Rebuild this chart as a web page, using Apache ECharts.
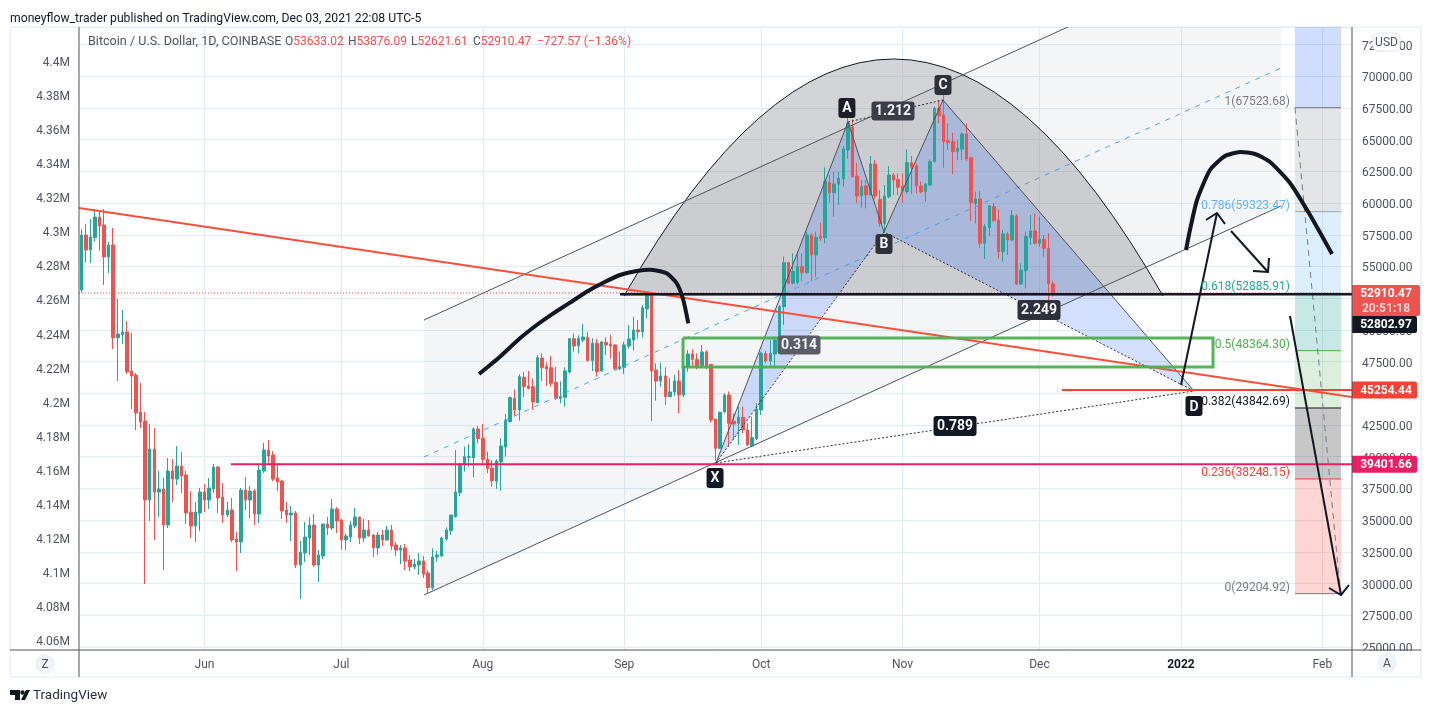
<!DOCTYPE html>
<html>
<head>
<meta charset="utf-8">
<title>BTCUSD</title>
<script src="https://cdn.jsdelivr.net/npm/echarts@6/dist/echarts.min.js"></script>
<style>
html, body { margin: 0; padding: 0; background: #fff; }
#chart { width: 1432px; height: 713px; }
</style>
</head>
<body>
<div id="chart"></div>
<script>
var FONT = 'Roboto';
var UP = '#26a69a', DOWN = '#ef5350', INK = '#131722', AXIS = '#50535e', GRIDCOL = '#e4ecf3';

// daily candles, from 2021-05-05
var opens = [53145,57480,56300,57270,58900,58270,55750,56690,49385,49600,49834,46760,46443,43527,42817,36589,40610,37220,37456,34618,
38875,38244,39270,38560,35642,34540,35564,37220,36589,37456,39190,36825,35406,35800,33514,33278,37377,36589,37298,35484,
38875,40531,40137,38323,38087,35800,35406,35564,31465,32410,33593,34618,31465,32174,34697,34382,35879,35012,33435,33672,
34540,35248,33593,34224,33829,32804,33829,33435,34224,33041,32647,32804,31858,31307,31465,31779,30834,29678,32096,32175,
33515,34172,35275,37168,39349,39950,39927,42187,41451,39796,39112,38087,39585,40768,42765,44605,43685,46260,45577,45525,
44263,47785,47102,47022,45866,44605,44684,46681,49309,48757,49204,49414,47575,48941,46760,49020,48888,48810,46944,47049,
48730,49204,49993,49861,51648,52778,46839,45971,46366,44737,45104,45971,44868,47102,48100,47680,47154,48258,47285,42976,
40662,43550,44867,42792,42634,43107,42108,40846,41400,43685,48153,47548,48100,49204,51832,55300,53672,53750,54985,54512,
57482,55905,57350,57272,61634,60820,61476,61897,64183,66023,62133,60556,61345,60636,63080,60293,58400,60504,62213,61870,
61345,60900,63185,62922,61345,60900,61424,63263,67468,66942,64919,64840,64052,64262,65445,63578,59980,60320,56825,58060,
59716,58665,56168,57535,57088,58980,53619,54670,57272,57797,56825,57140,56430,53633.02];
var closes = [57480,56300,57320,58900,58190,55750,56690,49385,49676,49834,46680,46365,43448,42738,36589,40610,37220,37456,34618,38875,
38244,39270,38480,35564,34540,35642,37220,36589,37535,39190,36746,35406,35800,33435,33278,37377,36589,37298,35484,38954,
40531,40058,38244,38008,35721,35406,35564,31465,32489,33672,34618,31465,32253,34697,34382,35879,34933,33435,33750,34618,
35248,33593,34224,33750,32804,33829,33435,34224,32962,32647,32804,31779,31307,31543,31779,30755,29678,32096,32250,33594,
34225,35407,37221,39428,40006,40006,42187,41425,39796,39060,38114,39664,40847,42896,44657,43685,46313,45525,45393,44316,
47811,47022,46917,45788,44605,44737,46760,49309,48730,49335,49440,47575,48941,46707,49046,48810,48730,46944,47102,48810,
49283,49993,49861,51753,52752,46760,45971,46366,44737,45104,45971,44868,47102,48100,47680,47102,48258,47154,42897,40662,
43500,44867,42634,42581,43107,42108,40925,41503,43764,48153,47548,48153,49204,51832,55300,53672,54591,54985,54512,57482,
55905,57298,57220,61687,60820,61503,61950,64262,66285,62081,60556,61293,60636,63080,60556,58400,60556,62213,61818,61240,
60950,63185,62817,61345,60900,61503,63263,67468,66890,64840,64761,64052,64315,65445,63474,60030,60320,56825,58140,59768,
58612,56168,57561,57088,59006,53619,54722,57350,57797,56825,57140,56430,53633,52910.47];
var highs = [57950,58350,58740,59530,59350,59530,56930,58033,52436,51568,50700,49755,46600,45813,43527,42580,42265,38875,38323,39900,
39820,40846,40373,38875,37298,36430,37535,37850,38323,39427,39270,37929,36430,36746,34066,37535,38402,37692,37456,39349,
41082,41319,40452,39480,38165,36430,36115,35721,33356,34854,35248,35484,32647,34697,35248,36667,36036,35100,33908,34933,
35957,35248,35090,35012,33908,34066,34224,34539,34618,33278,33041,33120,32253,31937,32410,32174,31071,32779,32569,33700,
34435,35407,40532,39480,40795,41000,42319,42424,42581,40400,39743,39795,41451,43370,44736,45314,46497,46707,46760,46182,
48021,48153,47443,47968,47102,45945,47049,49309,49730,49572,50465,49835,49335,49283,49125,49414,49598,48888,48284,49072,
50386,51043,50780,51963,52800,52883,47364,47417,47049,46182,46444,46839,47154,48415,48468,48153,48810,48415,47285,42976,
43550,45000,45130,43400,43948,43948,42634,43160,44210,48283,48363,49204,49467,51963,55773,55380,56036,56170,56036,57745,
57613,57745,58454,62816,62212,62475,62475,64500,66942,66601,63185,61818,61818,63710,63395,61030,61424,62920,62344,62344,
62344,64236,63710,63132,61687,61555,63447,67600,68125,68970,66285,65550,64972,65550,66285,63605,60898,60950,58350,59847,
59980,59506,57876,57745,59453,59111,55248,57745,59059,59190,58927,57482,57613,53876.09];
var lows = [52935,55300,55275,56955,56245,53540,54485,48494,45970,48888,46520,43763,42108,42265,29966,34933,33435,35248,31070,34380,
36430,37770,37140,34695,33593,33278,34145,35642,35879,37140,35564,34775,35248,33278,30990,32410,35800,35169,34617,34775,
38717,39349,38087,37298,35090,34775,33356,31227,28783,31700,32253,31307,30123,31937,33829,34223,33987,32647,32647,33278,
34382,33120,33278,33700,32095,32253,32962,33383,32647,32174,31543,31070,30990,31122,30675,30440,29232,29494,31727,32122,
33383,33830,35223,36900,38824,39218,38377,41057,39481,38692,37641,37482,37324,40000,42700,43160,42844,44684,45314,43685,
44211,45998,45577,45525,44474,44211,43948,46576,48284,48153,49020,47495,46760,46313,46707,48021,47758,46838,46838,46523,
48547,48363,49335,49414,50912,42818,44421,45525,44079,44700,44789,43422,44684,46707,47049,46891,47049,46891,42700,39700,
40600,43422,40793,41372,40925,41846,40846,40793,41320,43290,47365,47102,46970,49150,50386,53593,53600,53620,53855,54407,
53855,54144,57000,56825,60030,58927,59847,61293,63500,62000,60030,59637,59585,60580,60294,58139,57613,60372,60635,60635,
60030,60767,60714,60767,60767,60110,61345,63200,66285,62790,64183,62291,63395,63395,63316,58585,58400,56483,55590,57403,
58533,55642,55380,55905,57000,53540,53540,53277,56693,56746,56562,55774,51569,52621.61];

// x axis runs one band per day
var dayCount = 279;
var dates = [];
(function () {
    var d = new Date(Date.UTC(2021, 4, 5));
    for (var i = 0; i < dayCount; i++) {
        dates.push(d.toISOString().slice(0, 10));
        d.setUTCDate(d.getUTCDate() + 1);
    }
})();
var monthLabels = {
    '2021-06-01': 'Jun', '2021-07-01': 'Jul', '2021-08-01': 'Aug', '2021-09-01': 'Sep',
    '2021-10-01': 'Oct', '2021-11-01': 'Nov', '2021-12-01': 'Dec', '2022-01-01': '2022', '2022-02-01': 'Feb'
};

var leftTicks = {min: 4060000, max: 4420000, interval: 20000};
var rightTicks = {min: 25000, max: 73880, interval: 2500};

// chart drawings, as [day index, price]
var X = [139.1, 39507], A = [168.04, 66391], B = [175.93, 57719], C = [188.86, 68125], D = [243.87, 45183];
var channelTop = [[75.11, 50781], [262.94, 81528]];
var channelBottom = [[75.11, 29100], [262.94, 59769]];
var channelMid = [[75.11, 39980], [262.94, 70648]];
var capArc = [[118.95, 52673], [178.01, 90043], [237.08, 52673]];
var trendRed = [[-0.5, 59611], [278.5, 44710]];
var greenBox = [[131.88, 49361], [248.04, 49361], [248.04, 47075], [131.88, 47075], [131.88, 49361]];
var leftCurve = [[87.17, 46523], [91.77, 47887], [96.15, 49338], [99.81, 50386], [103.45, 51309], [107.11, 52145], [110.77, 53012], [114.41, 53721], [118.07, 54328], [121.73, 54644], [125.37, 54723], [128.3, 54463], [130.5, 53674], [131.94, 52357], [133.04, 50520]];
var rightCurve = [[242.12, 56299], [242.99, 57876], [244.53, 60241], [247.38, 62607], [250.67, 63710], [253.95, 64026], [257.24, 63868], [260.53, 63237], [264.91, 61582], [269.3, 59059], [274.12, 55984]];
var arrowUp = [[241.02, 45656], [248.91, 59217]], arrowUpHead = [[246.5, 58665], [248.91, 59217], [250.67, 58349]];
var arrowSide = [[251.98, 57797], [260.09, 54565]], arrowSideHead = [[256.8, 54644], [260.09, 54565], [260.31, 55669]];
var arrowDown = [[264.91, 51096], [276.09, 29100]], arrowDownHead = [[273.46, 29652], [276.09, 29100], [277.84, 29888]];

var fibLeft = 266, fibRight = 276.09;
var fibRatios = ['1', '0.786', '0.618', '0.5', '0.382', '0.236', '0'];
var fibPrices = [67523.68, 59323.47, 52885.91, 48364.30, 43842.69, 38248.15, 29204.92];
var fibLine = ['#787b86', '#64b5f6', '#26a69a', '#4caf50', '#131722', '#f44336', '#787b86'];
var fibFill = ['rgba(41,98,255,.22)', 'rgba(120,123,134,.2)', 'rgba(100,181,246,.22)', 'rgba(0,150,136,.22)', 'rgba(76,175,80,.2)', 'rgba(0,0,0,.22)', 'rgba(244,67,54,.22)'];

var lastPrice = 52910.47, levelBlack = 52802.97, levelRed = 45254.44, levelPink = 39401.66;

// text boxes: [day index, price, text, fill, width, height]
var patternTags = [
    [167.8, 67495, 'A', '#1c1f28', 17, 20],
    [138.9, 38324, 'X', '#131722', 17, 20],
    [175.93, 56773, 'B', '#2e303a', 17, 20],
    [188.86, 69308, 'C', '#2e303a', 17, 20],
    [243.87, 44000, 'D', '#131722', 17, 20],
    [177.9, 67258, '1.212', '#3b3e47', 43, 19],
    [157.3, 48810, '0.314', '#5b5d66', 43, 19],
    [209.9, 51569, '2.249', '#2e303a', 43, 20],
    [191.5, 42424, '0.789', '#131722', 43, 20]
];
// price scale tags: [price, first line, second line, fill, width, height]
var priceTags = [
    [52318, '52910.47', '20:51:18', '#ef5350', 68, 31],
    [50426, '52802.97', '', '#131722', 65, 17],
    [45254.44, '45254.44', '', '#f44336', 65, 17],
    [39401.66, '39401.66', '', '#e91e63', 65, 17]
];
// header quote: [left edge, font size, text]
var quoteParts = [
    [88, 12.6, 'Bitcoin / U.S. Dollar, 1D, COINBASE'],
    [285, 12, 'O{r|53633.02}'],
    [348, 12, 'H{r|53876.09}'],
    [411, 12, 'L{r|52621.61}'],
    [473, 12, 'C{r|52910.47}'],
    [537, 12, '{r|\u2212727.57 (\u22121.36%)}']
];

function drawSeries(kind, points, style, z, clip) {
    return {
        type: 'custom', xAxisIndex: 1, yAxisIndex: 0, silent: true, z: z, clip: clip !== false,
        data: [[0, 0]],
        renderItem: function (params, api) {
            var pts = points.map(function (p) { return api.coord(p); });
            if (kind === 'bezier') {
                return {type: 'bezierCurve', shape: {x1: pts[0][0], y1: pts[0][1], cpx1: pts[1][0], cpy1: pts[1][1], x2: pts[2][0], y2: pts[2][1]}, style: style};
            }
            return {type: kind, shape: {points: pts, smooth: style.smooth || 0}, style: style};
        }
    };
}
function line(points, color, width, dash, z) {
    return drawSeries('polyline', points, {stroke: color, lineWidth: width, fill: 'none', lineDash: dash || null}, z || 3);
}
function curve(points) {
    return drawSeries('polyline', points, {stroke: INK, lineWidth: 4, fill: 'none', smooth: 0.2}, 5);
}
function area(points, color, z) {
    return drawSeries('polygon', points, {fill: color}, z || 1);
}

var series = [];
series.push(area([channelTop[0], channelTop[1], channelBottom[1], channelBottom[0]], 'rgba(120,123,134,.08)'));
series.push(drawSeries('bezier', capArc, {fill: 'rgba(120,123,134,.33)', stroke: '#131722', lineWidth: 1}, 1));
series.push(area([X, A, B], 'rgba(41,98,255,.2)'));
series.push(area([B, C, D], 'rgba(41,98,255,.2)'));

// fib zones
fibPrices.forEach(function (p, i) {
    var upper = i === 0 ? rightTicks.max : fibPrices[i - 1];
    series.push(area([[fibLeft, upper], [fibRight, upper], [fibRight, p], [fibLeft, p]], fibFill[i]));
    series.push(line([[fibLeft, p], [fibRight, p]], fibLine[i], 1));
});

series.push({
    name: 'BTCUSD', type: 'candlestick', xAxisIndex: 0, yAxisIndex: 0, z: 2, barWidth: 3,
    data: opens.map(function (o, i) { return [o, closes[i], lows[i], highs[i]]; }),
    itemStyle: {color: UP, color0: DOWN, borderColor: UP, borderColor0: DOWN, borderWidth: 1}
});

series.push(line(channelTop, '#50535e', 1));
series.push(line(channelBottom, '#50535e', 1));
series.push(line(channelMid, '#42a5f5', 1, [5, 6]));
series.push(line([X, A, B, C, D], '#50535e', 1));
series.push(line([X, B, D], '#2a2e39', 1, [2, 2]));
series.push(line([A, C], '#2a2e39', 1, [2, 2]));
series.push(line([X, D], '#2a2e39', 1, [2, 2]));
series.push(line([[fibLeft, fibPrices[0]], [275.98, fibPrices[6]]], '#787b86', 1, [6, 5]));
series.push(line([[-0.5, lastPrice], [278.5, lastPrice]], DOWN, 1, [1, 2]));
series.push(line(trendRed, '#f9503c', 2, null, 4));
series.push(line([[32.8, levelPink], [278.5, levelPink]], '#e91e63', 2, null, 4));
series.push(line([[214.94, levelRed], [278.5, levelRed]], '#f44336', 2, null, 4));
series.push(line([[118.07, levelBlack], [278.5, levelBlack]], '#131722', 2.5, null, 4));
series.push(line(greenBox, 'rgba(76,175,80,.95)', 3, null, 4));
series.push(curve(leftCurve));
series.push(curve(rightCurve));
[arrowUp, arrowUpHead, arrowSide, arrowSideHead, arrowDown, arrowDownHead].forEach(function (a) {
    series.push(line(a, INK, 2, null, 5));
});

// fib labels
series.push({
    type: 'custom', xAxisIndex: 1, yAxisIndex: 0, silent: true, z: 6, clip: false,
    data: fibPrices.map(function (p, i) { return [264.9, p, i]; }),
    renderItem: function (params, api) {
        var i = api.value(2);
        var c = api.coord([api.value(0), api.value(1)]);
        return {type: 'text', style: {
            x: c[0], y: c[1] - 6, text: fibRatios[i] + '(' + fibPrices[i].toFixed(2) + ')',
            fill: fibLine[i], font: '12px ' + FONT, textAlign: 'right', textVerticalAlign: 'middle'
        }};
    }
});

// pattern labels
series.push({
    type: 'custom', xAxisIndex: 1, yAxisIndex: 0, silent: true, z: 7, clip: false,
    data: patternTags.map(function (t, i) { return [t[0], t[1], i]; }),
    renderItem: function (params, api) {
        var t = patternTags[api.value(2)];
        var c = api.coord([t[0], t[1]]);
        return {type: 'group', children: [
            {type: 'rect', shape: {x: c[0] - t[4] / 2, y: c[1] - t[5] / 2, width: t[4], height: t[5], r: 3}, style: {fill: t[3]}},
            {type: 'text', style: {x: c[0], y: c[1] + 1, text: t[2], fill: '#f2f3f5', font: 'bold 14px ' + FONT, textAlign: 'center', textVerticalAlign: 'middle'}}
        ]};
    }
});

// price scale labels
series.push({
    type: 'custom', xAxisIndex: 1, yAxisIndex: 0, silent: true, z: 8, clip: false,
    data: priceTags.map(function (t, i) { return [278.5, t[0], i]; }),
    renderItem: function (params, api) {
        var t = priceTags[api.value(2)];
        var c = api.coord([278.5, t[0]]);
        var kids = [{type: 'rect', shape: {x: c[0], y: c[1] - t[5] / 2, width: t[4], height: t[5], r: [0, 2, 2, 0]}, style: {fill: t[3]}}];
        kids.push({type: 'text', style: {x: c[0] + 34, y: t[2] ? c[1] - 6 : c[1] + 1, text: t[1], fill: '#fff', font: 'bold 12px ' + FONT, textAlign: 'center', textVerticalAlign: 'middle'}});
        if (t[2]) {
            kids.push({type: 'text', style: {x: c[0] + 34, y: c[1] + 8.5, text: t[2], fill: '#fbd5d4', font: 'bold 12px ' + FONT, textAlign: 'center', textVerticalAlign: 'middle'}});
        }
        return {type: 'group', children: kids};
    }
});

var graphics = [
    {type: 'rect', silent: true, z: 0, shape: {x: 10, y: 27, width: 1411, height: 650}, style: {fill: 'none', stroke: '#f0f3fa', lineWidth: 2}},
    {type: 'rect', silent: true, z: 19, shape: {x: 1353, y: 651, width: 67, height: 8}, style: {fill: '#fff'}},
    {type: 'line', silent: true, z: 20, shape: {x1: 79, y1: 27, x2: 79, y2: 677}, style: {stroke: AXIS, lineWidth: 1}},
    {type: 'line', silent: true, z: 20, shape: {x1: 1352, y1: 27, x2: 1352, y2: 677}, style: {stroke: AXIS, lineWidth: 1}},
    {type: 'line', silent: true, z: 20, shape: {x1: 10, y1: 650, x2: 1421, y2: 650}, style: {stroke: AXIS, lineWidth: 1}},
    {type: 'text', silent: true, z: 20, style: {x: 10, y: 19, text: 'moneyflow_trader published on TradingView.com, Dec 03, 2021 22:08 UTC-5', fill: INK, font: '12.2px ' + FONT, textVerticalAlign: 'middle'}},
    {type: 'circle', silent: true, z: 20, shape: {cx: 45, cy: 664, r: 10}, style: {fill: '#f0f3fa'}},
    {type: 'text', silent: true, z: 21, style: {x: 45, y: 665, text: 'Z', fill: AXIS, font: '12px ' + FONT, textAlign: 'center', textVerticalAlign: 'middle'}},
    {type: 'circle', silent: true, z: 20, shape: {cx: 1387, cy: 663, r: 10}, style: {fill: '#f0f3fa'}},
    {type: 'text', silent: true, z: 21, style: {x: 1387, y: 664, text: 'A', fill: AXIS, font: '12px ' + FONT, textAlign: 'center', textVerticalAlign: 'middle'}},
    {type: 'rect', silent: true, z: 20, shape: {x: 1373, y: 33, width: 27, height: 18, r: 5}, style: {fill: '#fff', stroke: '#e0e3eb', lineWidth: 1}},
    {type: 'text', silent: true, z: 21, style: {x: 1386.5, y: 43, text: 'USD', fill: AXIS, font: '12px ' + FONT, textAlign: 'center', textVerticalAlign: 'middle'}},
    {type: 'polygon', silent: true, z: 20, shape: {points: [[10, 690], [20, 690], [20, 700], [15, 700], [15, 695], [10, 695]]}, style: {fill: INK}},
    {type: 'circle', silent: true, z: 20, shape: {cx: 22.5, cy: 692.5, r: 2.2}, style: {fill: INK}},
    {type: 'polygon', silent: true, z: 20, shape: {points: [[26, 690], [30, 690], [25, 700], [21, 700]]}, style: {fill: INK}},
    {type: 'text', silent: true, z: 20, style: {x: 33, y: 696, text: 'TradingView', fill: '#2a2e39', font: '13.5px ' + FONT, textVerticalAlign: 'middle'}}
];
quoteParts.forEach(function (q) {
    graphics.push({type: 'text', silent: true, z: 20, style: {
        x: q[0], y: 42, text: q[2], fill: AXIS, font: q[1] + 'px ' + FONT, textVerticalAlign: 'middle',
        rich: {r: {fill: DOWN, font: '12px ' + FONT}}
    }});
});

// axis labels sit a little below their tick, as in the reference
var tickRich = {t: {color: AXIS, fontSize: 12, fontFamily: FONT, padding: [4, 0, 0, 0]}};

var option = {
    animation: false,
    backgroundColor: '#fff',
    textStyle: {fontFamily: FONT},
    grid: [
        {left: 79, right: 80, top: 27, bottom: 66},
        {left: 79, right: 80, top: 27, bottom: 63},
        {left: 79, right: 80, top: 27, bottom: 73}
    ],
    xAxis: [
        {type: 'category', gridIndex: 0, data: dates, show: false},
        {type: 'value', gridIndex: 0, min: -0.5, max: 278.5, show: false},
        {
            type: 'category', gridIndex: 1, data: dates, boundaryGap: true,
            axisLine: {show: false}, axisTick: {show: false},
            axisLabel: {
                color: AXIS, fontSize: 12, fontFamily: FONT, margin: 9,
                interval: function (i, v) { return monthLabels[v] !== undefined; },
                formatter: function (v) { return monthLabels[v] === '2022' ? '{y|2022}' : monthLabels[v]; },
                rich: {y: {fontWeight: 'bold', color: INK, fontSize: 12, fontFamily: FONT}}
            },
            splitLine: {
                show: true, alignWithLabel: true,
                interval: function (i, v) { return monthLabels[v] !== undefined; },
                lineStyle: {color: GRIDCOL, width: 1}
            }
        },
        {type: 'value', gridIndex: 2, min: 0, max: 1, show: false}
    ],
    yAxis: [
        {
            type: 'value', gridIndex: 0, position: 'right', min: rightTicks.min, max: rightTicks.max, interval: rightTicks.interval,
            scale: true, axisLine: {show: false}, axisTick: {show: false},
            axisLabel: {margin: 10, showMaxLabel: false, rich: tickRich, formatter: function (v) { return '{t|' + v.toFixed(2) + '}'; }},
            splitLine: {show: true, lineStyle: {color: GRIDCOL, width: 1}}
        },
        {type: 'value', gridIndex: 1, min: 0, max: 1, show: false},
        {
            type: 'value', gridIndex: 2, position: 'left', min: leftTicks.min, max: leftTicks.max, interval: leftTicks.interval,
            axisLine: {show: false}, axisTick: {show: false}, splitLine: {show: false},
            axisLabel: {margin: 9, showMaxLabel: false, rich: tickRich, formatter: function (v) { return '{t|' + Math.round(v / 10000) / 100 + 'M}'; }}
        }
    ],
    graphic: graphics,
    series: series
};

var myChart = echarts.init(document.getElementById('chart'));
myChart.setOption(option);
</script>
</body>
</html>
